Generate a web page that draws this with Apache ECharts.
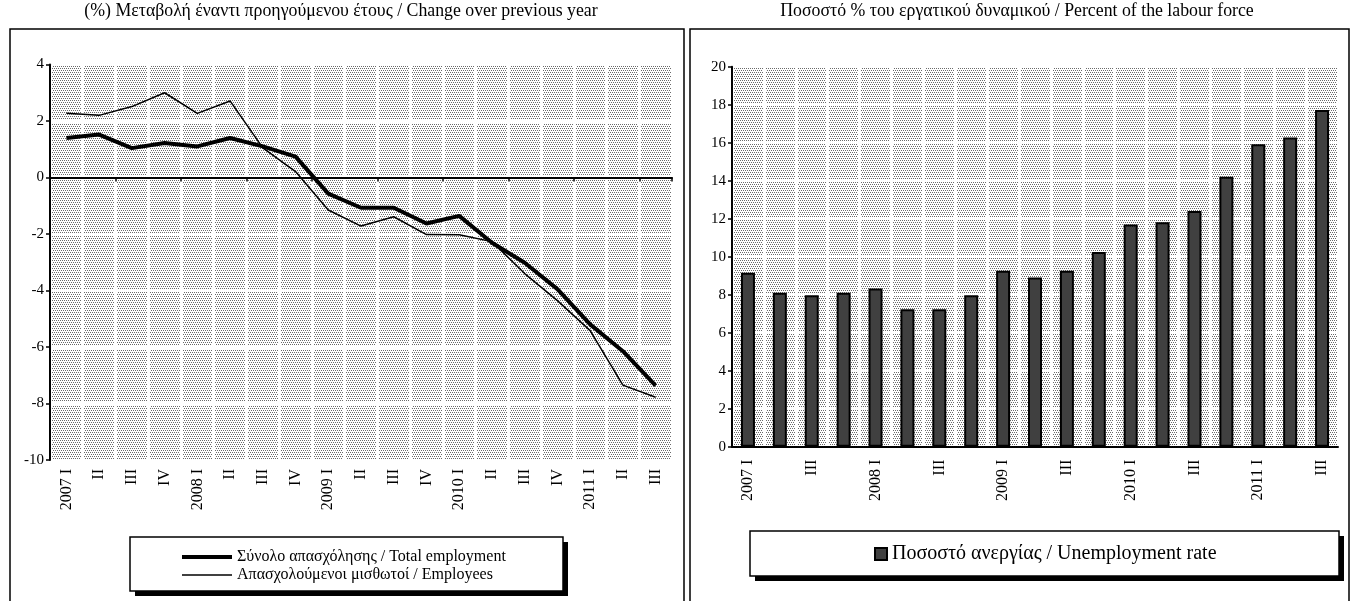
<!DOCTYPE html>
<html>
<head>
<meta charset="utf-8">
<script src="https://cdn.jsdelivr.net/npm/echarts@6/dist/echarts.min.js"></script>
<style>
    html, body { margin: 0; padding: 0; background: #fff; }
    #main { width: 1351px; height: 601px; }
</style>
</head>
<body>
<div id="main"></div>
<script>
// 季度
var quarters = ['2007 I', 'II', 'III', 'IV', '2008 I', 'II', 'III', 'IV', '2009 I', 'II', 'III', 'IV',
    '2010 I', 'II', 'III', 'IV', '2011 I', 'II', 'III'];
// 左图: 变化率 %
var totalEmployment = [1.40, 1.52, 1.04, 1.22, 1.10, 1.40, 1.10, 0.74, -0.57, -1.07, -1.07, -1.63,
    -1.36, -2.31, -3.02, -3.95, -5.20, -6.15, -7.37];
var employees = [2.27, 2.20, 2.51, 3.00, 2.27, 2.71, 1.05, 0.21, -1.15, -1.72, -1.39, -2.02,
    -2.03, -2.27, -3.40, -4.36, -5.42, -7.35, -7.78];
// 右图: 失业率 %
var unemployment = [9.16, 8.10, 7.97, 8.10, 8.32, 7.23, 7.23, 7.97, 9.26, 8.90, 9.26, 10.25,
    11.70, 11.81, 12.40, 14.21, 15.92, 16.28, 17.72];

var nameTotal = 'Σύνολο απασχόλησης / Total employment';
var nameEmp = 'Απασχολούμενοι μισθωτοί / Employees';
var nameUnemp = 'Ποσοστό ανεργίας / Unemployment rate';

var font = 'Liberation Serif';

// 点状底纹
function makePattern() {
    var c = document.createElement('canvas');
    c.width = 4;
    c.height = 4;
    var ctx = c.getContext('2d');
    ctx.fillStyle = '#fff';
    ctx.fillRect(0, 0, 4, 4);
    ctx.fillStyle = '#6a6a6a';
    [[0, 0], [2, 0], [1, 2], [3, 2]].forEach(function (p) {
        ctx.fillRect(p[0], p[1], 1, 1);
    });
    return c;
}
var pattern = { image: makePattern(), repeat: 'repeat' };

// 图例框 + 阴影
function legendBox(x, y, w, h) {
    return [
        { type: 'rect', z: 10, shape: { x: x + 5, y: y + 5, width: w, height: h }, style: { fill: '#000' } },
        { type: 'rect', z: 11, shape: { x: x, y: y, width: w, height: h },
          style: { fill: '#fff', stroke: '#000', lineWidth: 1.5 } }
    ];
}

var myChart = echarts.init(document.getElementById('main'));

var axisLabelY = { color: '#000', fontFamily: font, fontSize: 15, margin: 6 };
var whiteSplit = { show: true, lineStyle: { color: '#fff', width: 3 } };

var option = {
    animation: false,
    backgroundColor: '#fff',
    graphic: [
        { type: 'rect', shape: { x: 10, y: 29, width: 674, height: 600 },
          style: { fill: null, stroke: '#000', lineWidth: 1.5 } },
        { type: 'rect', shape: { x: 690, y: 29, width: 659, height: 600 },
          style: { fill: null, stroke: '#000', lineWidth: 1.5 } },
        { type: 'text', x: 341, y: 2,
          style: { text: '(%) Μεταβολή έναντι προηγούμενου έτους / Change over previous year',
                   font: '17.8px "' + font + '"', fill: '#000', textAlign: 'center' } },
        { type: 'text', x: 1017, y: 2,
          style: { text: 'Ποσοστό % του εργατικού δυναμικού / Percent of the labour force',
                   font: '17.8px "' + font + '"', fill: '#000', textAlign: 'center' } }
    ].concat(legendBox(130, 537, 433, 54), legendBox(750, 531, 589, 45)),
    legend: [
        {
            data: [
                { name: nameTotal, icon: 'path://M0,0H50V4H0Z' },
                { name: nameEmp, icon: 'path://M0,0H50V1.5H0Z' }
            ],
            orient: 'vertical',
            left: 182,
            top: 549,
            z: 20,
            padding: 0,
            itemGap: 2,
            itemWidth: 50,
            itemHeight: 14,
            symbolKeepAspect: true,
            selectedMode: false,
            itemStyle: { color: '#000' },
            textStyle: { color: '#000', fontFamily: font, fontSize: 16 }
        },
        {
            data: [nameUnemp],
            icon: 'rect',
            left: 874,
            top: 544,
            z: 20,
            padding: 0,
            itemWidth: 12,
            itemHeight: 12,
            itemGap: 0,
            selectedMode: false,
            textStyle: { color: '#000', fontFamily: font, fontSize: 20 }
        }
    ],
    grid: [
        { left: 50, top: 64.5, width: 622, height: 395.5, show: true,
          backgroundColor: pattern, borderWidth: 0 },
        { left: 732, top: 66.7, width: 606, height: 380, show: true,
          backgroundColor: pattern, borderWidth: 0 }
    ],
    xAxis: [
        {
            gridIndex: 0,
            type: 'category',
            data: quarters,
            position: 'bottom',
            axisLine: { show: false, onZero: false },
            axisTick: { show: false },
            axisLabel: { rotate: 90, interval: 0, margin: 9, color: '#000', fontFamily: font, fontSize: 16 },
            splitLine: { show: true, interval: 0, lineStyle: { color: '#fff', width: 3 } }
        },
        {
            // 零线
            gridIndex: 0,
            type: 'category',
            data: quarters,
            axisLine: { show: true, onZero: true, lineStyle: { color: '#000', width: 2 } },
            axisTick: { show: true, inside: true, length: 4, lineStyle: { color: '#000', width: 1.5 } },
            axisLabel: { show: false },
            splitLine: { show: false }
        },
        {
            gridIndex: 1,
            type: 'category',
            data: quarters,
            axisLine: { show: true, lineStyle: { color: '#000', width: 2 } },
            axisTick: { show: false },
            axisLabel: { rotate: 90, interval: 1, margin: 13, color: '#000', fontFamily: font, fontSize: 16 },
            splitLine: { show: true, interval: 0, lineStyle: { color: '#fff', width: 3 } }
        }
    ],
    yAxis: [
        {
            gridIndex: 0,
            type: 'value',
            min: -10,
            max: 4,
            interval: 2,
            axisLine: { show: true, lineStyle: { color: '#000', width: 2 } },
            axisTick: { show: true, length: 4, lineStyle: { color: '#000', width: 1.5 } },
            axisLabel: axisLabelY,
            splitLine: whiteSplit
        },
        {
            gridIndex: 1,
            type: 'value',
            min: 0,
            max: 20,
            interval: 2,
            axisLine: { show: true, lineStyle: { color: '#000', width: 2 } },
            axisTick: { show: true, length: 4, lineStyle: { color: '#000', width: 1.5 } },
            axisLabel: axisLabelY,
            splitLine: whiteSplit
        }
    ],
    series: [
        {
            name: nameTotal,
            type: 'line',
            xAxisIndex: 0,
            yAxisIndex: 0,
            data: totalEmployment,
            symbol: 'none',
            lineStyle: { color: '#000', width: 4 },
            itemStyle: { color: '#000' },
            z: 3
        },
        {
            name: nameEmp,
            type: 'line',
            xAxisIndex: 0,
            yAxisIndex: 0,
            data: employees,
            symbol: 'none',
            lineStyle: { color: '#000', width: 1.5 },
            itemStyle: { color: '#000' },
            z: 2
        },
        {
            name: nameUnemp,
            type: 'bar',
            xAxisIndex: 2,
            yAxisIndex: 1,
            data: unemployment,
            barWidth: 14,
            itemStyle: { color: '#404040', borderColor: '#000', borderWidth: 2 }
        }
    ]
};

myChart.setOption(option);
</script>
</body>
</html>
